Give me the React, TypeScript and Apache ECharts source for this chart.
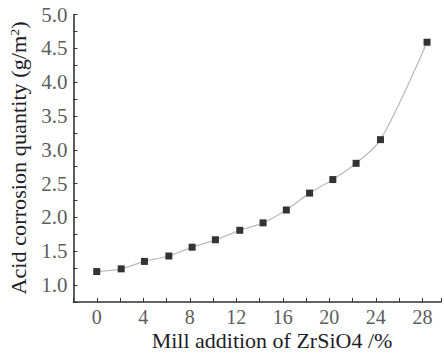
import React, { useEffect, useRef } from "react";
import * as echarts from "echarts";

const xValues = [0, 2.1, 4.1, 6.2, 8.2, 10.2, 12.3, 14.3, 16.3, 18.3, 20.3, 22.3, 24.4, 28.4];
const yValues = [1.2, 1.24, 1.35, 1.43, 1.56, 1.67, 1.81, 1.92, 2.11, 2.36, 2.56, 2.8, 3.15, 4.59];
const xTitle = "Mill addition of ZrSiO4 /%";
const yTitle = "Acid corrosion quantity (g/m{sup|2})";
const xMin = -2;
const xMax = 29.6;
const yMin = 0.75;
const yMax = 5.0;

const SERIF = "'Liberation Serif', 'Times New Roman', serif";
const AXIS = "#333333";

export default function App() {
  const ref = useRef<HTMLDivElement>(null);
  useEffect(() => {
    if (!ref.current) return;
    const chart = echarts.init(ref.current, null, { renderer: "svg" });
    const data = xValues.map((x, i) => [x, yValues[i]]);
    chart.setOption({
      animation: false,
      backgroundColor: "#ffffff",
      grid: { left: 73.5, right: 1, top: 14.5, bottom: 52 },
      xAxis: {
        type: "value",
        min: xMin,
        max: xMax,
        interval: 2,
        splitLine: { show: false },
        axisLine: { show: true, onZero: false, lineStyle: { color: AXIS, width: 1.6, opacity: 1 } },
        axisTick: { show: true, inside: true, length: 4, lineStyle: { color: AXIS } },
        axisLabel: {
          margin: 5,
          color: "#5e5e5e",
          fontFamily: SERIF,
          fontSize: 20,
          formatter: (v: number) => (v >= 0 && v <= 28 && Math.round(v) === v && v % 4 === 0 ? String(v) : ""),
        },
      },
      yAxis: {
        type: "value",
        min: yMin,
        max: yMax,
        interval: 0.25,
        splitLine: { show: false },
        axisLine: { show: true, onZero: false, lineStyle: { color: AXIS, width: 1.6, opacity: 1 } },
        axisTick: { show: true, inside: true, length: 4, lineStyle: { color: AXIS } },
        axisLabel: {
          margin: 6,
          color: "#5e5e5e",
          fontFamily: SERIF,
          fontSize: 21,
          formatter: (v: number) => {
            const d = v * 2;
            return v >= 1 && Math.abs(d - Math.round(d)) < 1e-6 ? v.toFixed(1) : "";
          },
        },
      },
      series: [
        {
          type: "line",
          data,
          smooth: 0.3,
          symbol: "rect",
          symbolSize: 7,
          lineStyle: { color: "#bdbdbd", width: 1.3 },
          itemStyle: { color: "#333" },
        },
      ],
      graphic: [
        {
          type: "text",
          x: 272,
          y: 341,
          scaleX: 1.1,
          style: {
            text: xTitle,
            x: 0,
            y: 0,
            align: "center",
            verticalAlign: "middle",
            font: `20px ${SERIF}`,
            fill: "#1e1e28",
          },
        },
        {
          type: "text",
          x: 19,
          y: 158,
          rotation: Math.PI / 2,
          scaleX: 1.06,
          style: {
            text: yTitle,
            x: 0,
            y: 0,
            align: "center",
            verticalAlign: "middle",
            font: `21px ${SERIF}`,
            fill: "#1e1e28",
            rich: {
              sup: { fontSize: 13, fontFamily: SERIF, verticalAlign: "top", fill: "#1e1e28" },
            },
          },
        },
      ],
    });
    return () => chart.dispose();
  }, []);
  return <div ref={ref} style={{ width: 444, height: 354, position: "absolute", left: 0, top: 0 }} />;
}
